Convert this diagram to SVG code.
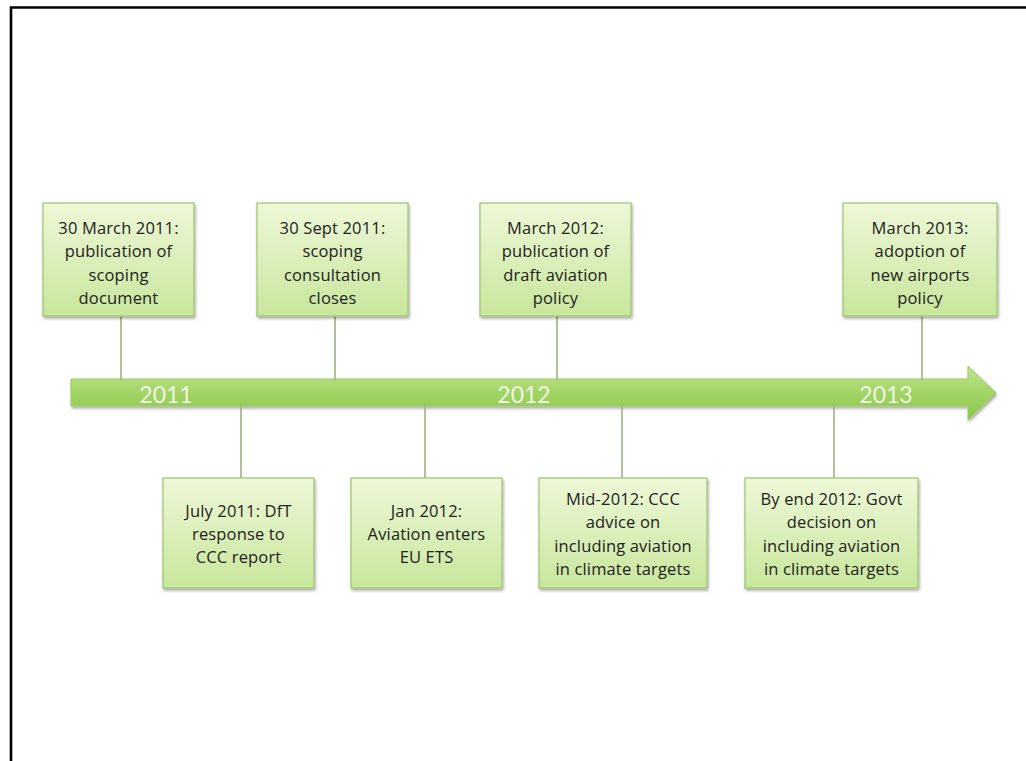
<svg xmlns="http://www.w3.org/2000/svg" width="1026" height="761" viewBox="0 0 1026 761">
<defs>
<linearGradient id="boxg" x1="0" y1="0" x2="0" y2="1">
<stop offset="0" stop-color="#eef8d8"/>
<stop offset="1" stop-color="#c8e69c"/>
</linearGradient>
<linearGradient id="arrg" x1="0" y1="0" x2="0" y2="1">
<stop offset="0" stop-color="#c2e58f"/>
<stop offset="0.5" stop-color="#a2d465"/>
<stop offset="1" stop-color="#8ac54a"/>
</linearGradient>
<filter id="sh" x="-10%" y="-10%" width="130%" height="130%">
<feGaussianBlur in="SourceAlpha" stdDeviation="1.5"/>
<feOffset dx="1" dy="2" result="o"/>
<feComponentTransfer><feFuncA type="linear" slope="0.35"/></feComponentTransfer>
<feMerge><feMergeNode/><feMergeNode in="SourceGraphic"/></feMerge>
</filter>
</defs>
<style>
.box{fill:url(#boxg);stroke:#9fc46e;stroke-width:1.2;filter:url(#sh)}
.t{font-family:"Open Sans","Liberation Sans",sans-serif;font-size:16.5px;letter-spacing:0.15px;fill:#222222;text-anchor:middle}
.yr{font-family:Lato,"Open Sans",sans-serif;font-size:23px;fill:#ffffff;fill-opacity:0.85;text-anchor:middle}
.c{stroke:#9eb27e;stroke-width:1.6;fill:none}
</style>
<rect x="0" y="0" width="1026" height="761" fill="#ffffff"/>
<path d="M11 761 V7.5 H1026" fill="none" stroke="#000" stroke-width="2.6"/>

<g id="timeline-arrow">
<path d="M71 379 H968 V366 L996 393 L968 420 V406 H71 Z" fill="url(#arrg)" stroke="#9ccb63" stroke-width="1" filter="url(#sh)"/>
<text class="yr" x="166" y="403">2011</text>
<text class="yr" x="524" y="403">2012</text>
<text class="yr" x="886" y="403">2013</text>
</g>

<g id="connectors">
<line class="c" x1="121" y1="316" x2="121" y2="380"/>
<line class="c" x1="335" y1="316" x2="335" y2="380"/>
<line class="c" x1="557" y1="316" x2="557" y2="380"/>
<line class="c" x1="922" y1="316" x2="922" y2="380"/>
<line class="c" x1="241" y1="405" x2="241" y2="478"/>
<line class="c" x1="425" y1="405" x2="425" y2="478"/>
<line class="c" x1="622" y1="405" x2="622" y2="478"/>
<line class="c" x1="834" y1="405" x2="834" y2="478"/>
</g>

<g id="n1">
<rect class="box" x="43" y="203" width="151" height="113"/>
<text class="t" x="118.5" y="234">30 March 2011:</text>
<text class="t" x="118.5" y="257">publication of</text>
<text class="t" x="118.5" y="281">scoping</text>
<text class="t" x="118.5" y="304">document</text>
</g>
<g id="n2">
<rect class="box" x="257" y="203" width="151" height="113"/>
<text class="t" x="332.5" y="234">30 Sept 2011:</text>
<text class="t" x="332.5" y="257">scoping</text>
<text class="t" x="332.5" y="281">consultation</text>
<text class="t" x="332.5" y="304">closes</text>
</g>
<g id="n3">
<rect class="box" x="480" y="203" width="151" height="113"/>
<text class="t" x="555.5" y="234">March 2012:</text>
<text class="t" x="555.5" y="257">publication of</text>
<text class="t" x="555.5" y="281">draft aviation</text>
<text class="t" x="555.5" y="304">policy</text>
</g>
<g id="n4">
<rect class="box" x="843" y="203" width="154" height="113"/>
<text class="t" x="920" y="234">March 2013:</text>
<text class="t" x="920" y="257">adoption of</text>
<text class="t" x="920" y="281">new airports</text>
<text class="t" x="920" y="304">policy</text>
</g>
<g id="n5">
<rect class="box" x="163" y="478" width="151" height="110"/>
<text class="t" x="238.5" y="517">July 2011: DfT</text>
<text class="t" x="238.5" y="540">response to</text>
<text class="t" x="238.5" y="563">CCC report</text>
</g>
<g id="n6">
<rect class="box" x="351" y="478" width="151" height="110"/>
<text class="t" x="426.5" y="517">Jan 2012:</text>
<text class="t" x="426.5" y="540">Aviation enters</text>
<text class="t" x="426.5" y="563">EU ETS</text>
</g>
<g id="n7">
<rect class="box" x="539" y="478" width="168" height="110"/>
<text class="t" x="623" y="505">Mid-2012: CCC</text>
<text class="t" x="623" y="528">advice on</text>
<text class="t" x="623" y="552">including aviation</text>
<text class="t" x="623" y="575">in climate targets</text>
</g>
<g id="n8">
<rect class="box" x="745" y="478" width="173" height="110"/>
<text class="t" x="831.5" y="505">By end 2012: Govt</text>
<text class="t" x="831.5" y="528">decision on</text>
<text class="t" x="831.5" y="552">including aviation</text>
<text class="t" x="831.5" y="575">in climate targets</text>
</g>
</svg>
